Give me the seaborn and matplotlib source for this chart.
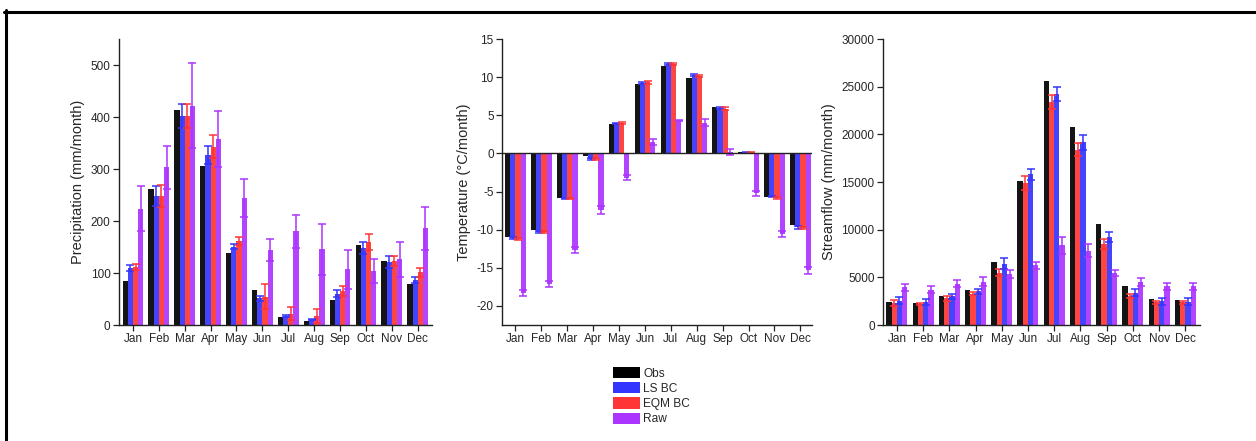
import numpy as np
import pandas as pd
import matplotlib
matplotlib.use("Agg")
import matplotlib.pyplot as plt
from matplotlib.patches import Patch
from matplotlib.lines import Line2D
import seaborn as sns

sns.set_style("ticks")
plt.rcParams["font.family"] = ["Liberation Sans", "DejaVu Sans"]
plt.rcParams["axes.unicode_minus"] = False

months = ["Jan", "Feb", "Mar", "Apr", "May", "Jun",
          "Jul", "Aug", "Sep", "Oct", "Nov", "Dec"]
series = ["Obs", "LS BC", "EQM BC", "Raw"]
colors = {"Obs": "#000000", "LS BC": "#3434FF",
          "EQM BC": "#FF3434", "Raw": "#AC34FF"}

# Precipitation (mm/month): means and error half-widths
precip_obs = [85, 262, 413, 306, 138, 67, 15, 7, 49, 153, 124, 78]
precip_ls = [109, 248, 402, 327, 151, 51, 17, 10, 60, 148, 121, 87]
precip_ls_err = [6, 20, 24, 17, 5, 5, 2, 1, 7, 12, 11, 6]
precip_eqm = [111, 248, 402, 343, 161, 54, 22, 17, 65, 160, 123, 101]
precip_eqm_err = [6, 21, 23, 22, 8, 24, 13, 14, 10, 15, 10, 9]
precip_raw = [224, 303, 422, 357, 244, 144, 180, 146, 107, 103, 126, 186]
precip_raw_err = [43, 42, 81, 54, 37, 21, 32, 49, 37, 23, 34, 41]

# Temperature (°C/month)
temp_obs = [-11.0, -10.0, -5.9, -0.4, 3.9, 9.05, 11.45, 9.95, 6.15, 0.25, -5.65, -9.45]
temp_ls = [-11.1, -10.3, -5.9, -0.7, 3.95, 9.25, 11.7, 10.25, 5.95, 0.1, -5.65, -9.7]
temp_ls_err = [0.15, 0.15, 0.1, 0.1, 0.1, 0.15, 0.15, 0.1, 0.15, 0.05, 0.1, 0.15]
temp_eqm = [-11.25, -10.3, -5.9, -0.7, 4.0, 9.3, 11.7, 10.15, 5.85, 0.1, -5.85, -9.8]
temp_eqm_err = [0.15, 0.15, 0.1, 0.1, 0.15, 0.15, 0.15, 0.1, 0.2, 0.05, 0.1, 0.15]
temp_raw = [-18.3, -17.1, -12.7, -7.4, -3.2, 1.5, 4.3, 4.05, 0.2, -5.25, -10.6, -15.35]
temp_raw_err = [0.4, 0.4, 0.4, 0.5, 0.35, 0.4, 0.1, 0.4, 0.35, 0.3, 0.4, 0.5]

# Streamflow (mm/month)
flow_obs = [2450, 2350, 3000, 3650, 6600, 15150, 25600, 20800, 10550, 4100, 2750, 2650]
flow_eqm = [2300, 2200, 2800, 3300, 5500, 14900, 23400, 18400, 8500, 3050, 2400, 2400]
flow_eqm_err = [350, 150, 250, 150, 400, 700, 700, 700, 550, 200, 150, 150]
flow_ls = [2550, 2400, 3000, 3550, 6450, 15800, 24200, 19150, 9250, 3400, 2500, 2450]
flow_ls_err = [350, 350, 300, 250, 600, 600, 750, 750, 550, 350, 350, 350]
flow_raw = [3950, 3700, 4350, 4550, 5350, 6250, 8350, 7800, 5450, 4500, 4050, 4050]
flow_raw_err = [350, 350, 400, 450, 400, 400, 850, 700, 350, 400, 400, 400]


def long_frame(values, errors):
    rows = []
    for name, vals in values.items():
        errs = errors.get(name, [0] * len(months))
        for m, v, e in zip(months, vals, errs):
            rows.append({"month": m, "series": name, "value": v, "err": e})
    return pd.DataFrame(rows)


precip_df = long_frame(
    {"Obs": precip_obs, "LS BC": precip_ls, "EQM BC": precip_eqm, "Raw": precip_raw},
    {"LS BC": precip_ls_err, "EQM BC": precip_eqm_err, "Raw": precip_raw_err})
temp_df = long_frame(
    {"Obs": temp_obs, "LS BC": temp_ls, "EQM BC": temp_eqm, "Raw": temp_raw},
    {"LS BC": temp_ls_err, "EQM BC": temp_eqm_err, "Raw": temp_raw_err})
flow_df = long_frame(
    {"Obs": flow_obs, "EQM BC": flow_eqm, "LS BC": flow_ls, "Raw": flow_raw},
    {"EQM BC": flow_eqm_err, "LS BC": flow_ls_err, "Raw": flow_raw_err})

fig = plt.figure(figsize=(12.56, 4.41), dpi=100)
bottom, height = 0.263, 0.6485
ax1 = fig.add_axes([0.0947, bottom, 0.2492, height])
ax2 = fig.add_axes([0.3997, bottom, 0.2468, height])
ax3 = fig.add_axes([0.7030, bottom, 0.2524, height])


def grouped_bars(ax, df, order):
    sns.barplot(data=df, x="month", y="value", hue="series", order=months,
                hue_order=order, palette=colors, saturation=1, errorbar=None,
                width=0.8, linewidth=0, alpha=0.92, legend=False, ax=ax)
    for name, container in zip(order, ax.containers):
        sub = df[df["series"] == name].set_index("month").loc[months]
        if (sub["err"] == 0).all():
            continue
        xs = [p.get_x() + p.get_width() / 2 for p in container.patches]
        ax.errorbar(xs, sub["value"].values, yerr=sub["err"].values, fmt="none",
                    ecolor=colors[name], elinewidth=1.1, capsize=2.6,
                    capthick=1.1, zorder=3)


def style_axis(ax, ylabel, ylim, yticks, xlim):
    ax.set_xlim(*xlim)
    ax.set_ylim(*ylim)
    ax.set_yticks(yticks)
    ax.set_xlabel("")
    ax.set_ylabel(ylabel, fontsize=10.5, labelpad=4)
    sns.despine(ax=ax)
    for s in ("left", "bottom"):
        ax.spines[s].set_linewidth(1.0)
        ax.spines[s].set_color("#222222")
    ax.tick_params(axis="both", labelsize=8.5, length=4, width=0.9,
                   color="#222222", pad=2)


grouped_bars(ax1, precip_df, series)
style_axis(ax1, "Precipitation (mm/month)", (0, 550), range(0, 501, 100), (-0.54, 11.55))

grouped_bars(ax2, temp_df, series)
ax2.axhline(0, color="#222222", linewidth=1.0, zorder=4)
style_axis(ax2, "Temperature (°C/month)", (-22.5, 15), range(-20, 16, 5), (-0.52, 11.45))

grouped_bars(ax3, flow_df, ["Obs", "EQM BC", "LS BC", "Raw"])
style_axis(ax3, "Streamflow (mm/month)", (0, 30000), range(0, 30001, 5000), (-0.53, 11.56))

handles = [Patch(facecolor=colors[s], edgecolor="none", label=s) for s in series]
fig.legend(handles=handles, loc="upper left",
           bbox_to_anchor=(613 / 1256, 1 - 367 / 441), frameon=False,
           fontsize=8.6, handlelength=2.25, handleheight=1.05, labelspacing=0.22,
           handletextpad=0.3, borderpad=0, borderaxespad=0)

# Outer frame, open toward the right and bottom edges
fig.add_artist(Line2D([5.5 / 1256, 5.5 / 1256], [0, 1 - 10 / 441],
                      transform=fig.transFigure, color="black", linewidth=2.2))
fig.add_artist(Line2D([4 / 1256, 1], [1 - 11.5 / 441, 1 - 11.5 / 441],
                      transform=fig.transFigure, color="black", linewidth=2.2))

fig.savefig("out.png", dpi=100, facecolor="white")
